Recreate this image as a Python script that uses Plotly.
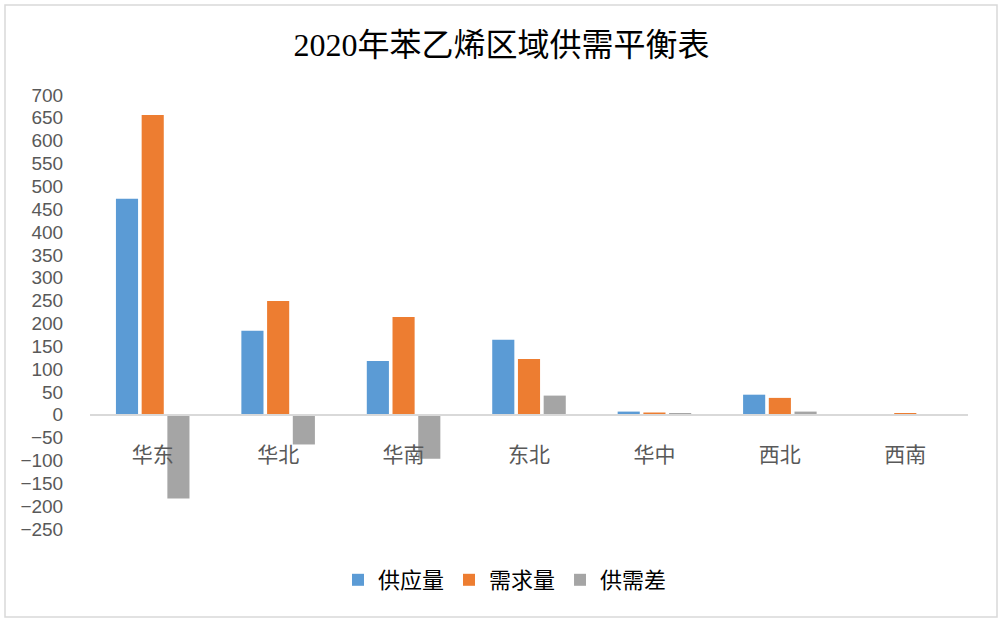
import plotly.graph_objects as go

categories = ["华东", "华北", "华南", "东北", "华中", "西北", "西南"]
supply = [473, 184, 118, 164, 7, 44, 0]
demand = [656, 249, 214, 122, 5, 37, 2]
balance = [-183, -65, -96, 42, 2, 7, -2]
y_ticks = list(range(-250, 701, 50))

series = [("供应量", supply, "#5B9BD5"), ("需求量", demand, "#ED7D31"), ("供需差", balance, "#A5A5A5")]

fig = go.Figure()
for name, vals, col in series:
    fig.add_trace(go.Bar(x=categories, y=vals, name=name, marker=dict(color=col, line=dict(width=0))))

W, H = 1003, 623
ml, mr, mt, mb = 90, 35, 95, 94
pw, ph = W - ml - mr, H - mt - mb
ymin, ymax = -250, 700
zero_pos = (0 - ymin) / (ymax - ymin)

def px_x(x):
    return (x - ml) / pw

def px_y(y):
    return (H - mb - y) / ph

fig.update_layout(
    width=W, height=H,
    margin=dict(l=ml, r=mr, t=mt, b=mb),
    paper_bgcolor="white", plot_bgcolor="white",
    barmode="group", bargap=0.385, bargroupgap=0.14,
    title=dict(text="2020年苯乙烯区域供需平衡表", x=0.5, xanchor="center", y=1 - 45 / H, yanchor="middle",
               font=dict(family="Liberation Serif, Noto Sans CJK SC", size=32, color="#000000")),
    font=dict(family="Noto Sans CJK SC", color="#595959"),
    legend=dict(orientation="h", x=px_x(505), xanchor="center", y=px_y(580), yanchor="middle",
                font=dict(family="Liberation Serif, Noto Sans CJK SC", size=22, color="#000000"),
                itemwidth=30, traceorder="normal"),
    xaxis=dict(type="category", anchor="free", position=zero_pos, showline=True, linecolor="#D9D9D9",
               linewidth=2, showgrid=False, ticks="outside", ticklen=21, tickcolor="rgba(0,0,0,0)",
               tickfont=dict(family="Noto Sans CJK SC", size=21, color="#595959"), fixedrange=True),
    yaxis=dict(range=[ymin, ymax], tickvals=y_ticks, showgrid=False, zeroline=False, showline=False,
               ticks="outside", ticklen=22, tickcolor="rgba(0,0,0,0)",
               tickfont=dict(family="Liberation Sans, Arial", size=19, color="#595959")),
    shapes=[dict(type="rect", xref="paper", yref="paper",
                 x0=px_x(5), x1=px_x(997), y0=px_y(617), y1=px_y(5),
                 line=dict(color="#D9D9D9", width=1.5), fillcolor="rgba(0,0,0,0)", layer="below")],
)

fig.write_html("out.html")
